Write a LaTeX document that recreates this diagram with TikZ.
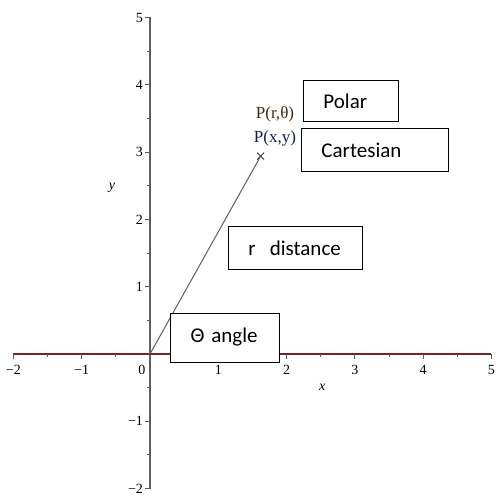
\documentclass[tikz,border=0pt]{standalone}
\usepackage{fontspec}
\setmainfont{Liberation Serif}
\newfontfamily\boxfont{Carlito}
\usetikzlibrary{shapes.misc,positioning}
\definecolor{axisred}{RGB}{120,35,35}
\definecolor{axisgray}{RGB}{95,95,95}
\definecolor{ptbrown}{RGB}{70,40,15}
\definecolor{ptblue}{RGB}{15,30,70}

\begin{document}
\begin{tikzpicture}[x=68.3pt, y=67.3pt,
    ticklabel/.style={font=\fontsize{14}{16}\selectfont, inner sep=0pt},
    labelbox/.style={draw, fill=white, line width=1pt, anchor=west, align=left, inner xsep=20pt, inner ysep=0pt, font=\boxfont\fontsize{21}{25}\selectfont}]
  \useasboundingbox (-2.196,-2.095) rectangle (5.066,5.260);
  % axes
  \draw[axisgray, line width=1.2pt] (0,-2) -- (0,5);
  \foreach \y in {-2,...,5}
    \draw[axisgray, line width=1pt] (0,\y) -- ++(-5pt,0);
  \foreach \y in {-1.5,-0.5,...,4.5}
    \draw[axisgray, line width=1pt] (0,\y) -- ++(-3pt,0);
  \draw[axisred, line width=1.3pt] (-2,0) -- (5,0);
  \foreach \x in {-2,...,5}
    \draw[axisgray, line width=1pt] (\x,0) -- ++(0,-5pt);
  \foreach \x in {-1.5,-0.5,...,4.5}
    \draw[axisgray, line width=1pt] (\x,0) -- ++(0,-3pt);
  % tick labels
  \foreach \x/\t in {-2/−2,-1/−1,1/1,2/2,3/3,4/4,5/5}
    \node[ticklabel] (xl\x) at (\x,-0.24) {\t};
  \node[ticklabel] (xl0) at (-0.12,-0.24) {0};
  \foreach \y/\t in {-2/−2,-1/−1,1/1,2/2,3/3,4/4,5/5}
    \node[ticklabel, anchor=east] (yl\y) at (-0.1,\y) {\t};
  \node[ticklabel] (xname) at (2.52,-0.49) {\textit{x}};
  \node[ticklabel] (yname) at (-0.556,2.47) {\textit{y}};
  % point and radius
  \coordinate (O) at (0,0);
  \node[cross out, draw=black!80, line width=0.9pt, minimum size=6pt, inner sep=0pt] (P) at (1.62,2.94) {};
  \draw[axisgray, line width=1pt] (O) -- (P.center);
  \node[font=\fontsize{17}{19}\selectfont, text=ptbrown] (prt) at (1.83,3.566) {P(r,θ)};
  \node[font=\fontsize{17}{19}\selectfont, text=ptblue] (pxy) at (1.83,3.21) {P(x,y)};
  % boxes
  \node[labelbox, text width=55pt, minimum height=41pt] (polar) at (2.24,3.752) {Polar};
  \node[labelbox, text width=107pt, minimum height=43pt] (cart) at (2.21,3.024) {Cartesian};
  \node[labelbox, text width=94pt, minimum height=42pt] (dist) at (1.142,1.575) {r~~distance};
  \node[labelbox, text width=69pt, minimum height=49pt] (angle) at (0.293,0.245) {Θ angle};
\end{tikzpicture}
\end{document}
